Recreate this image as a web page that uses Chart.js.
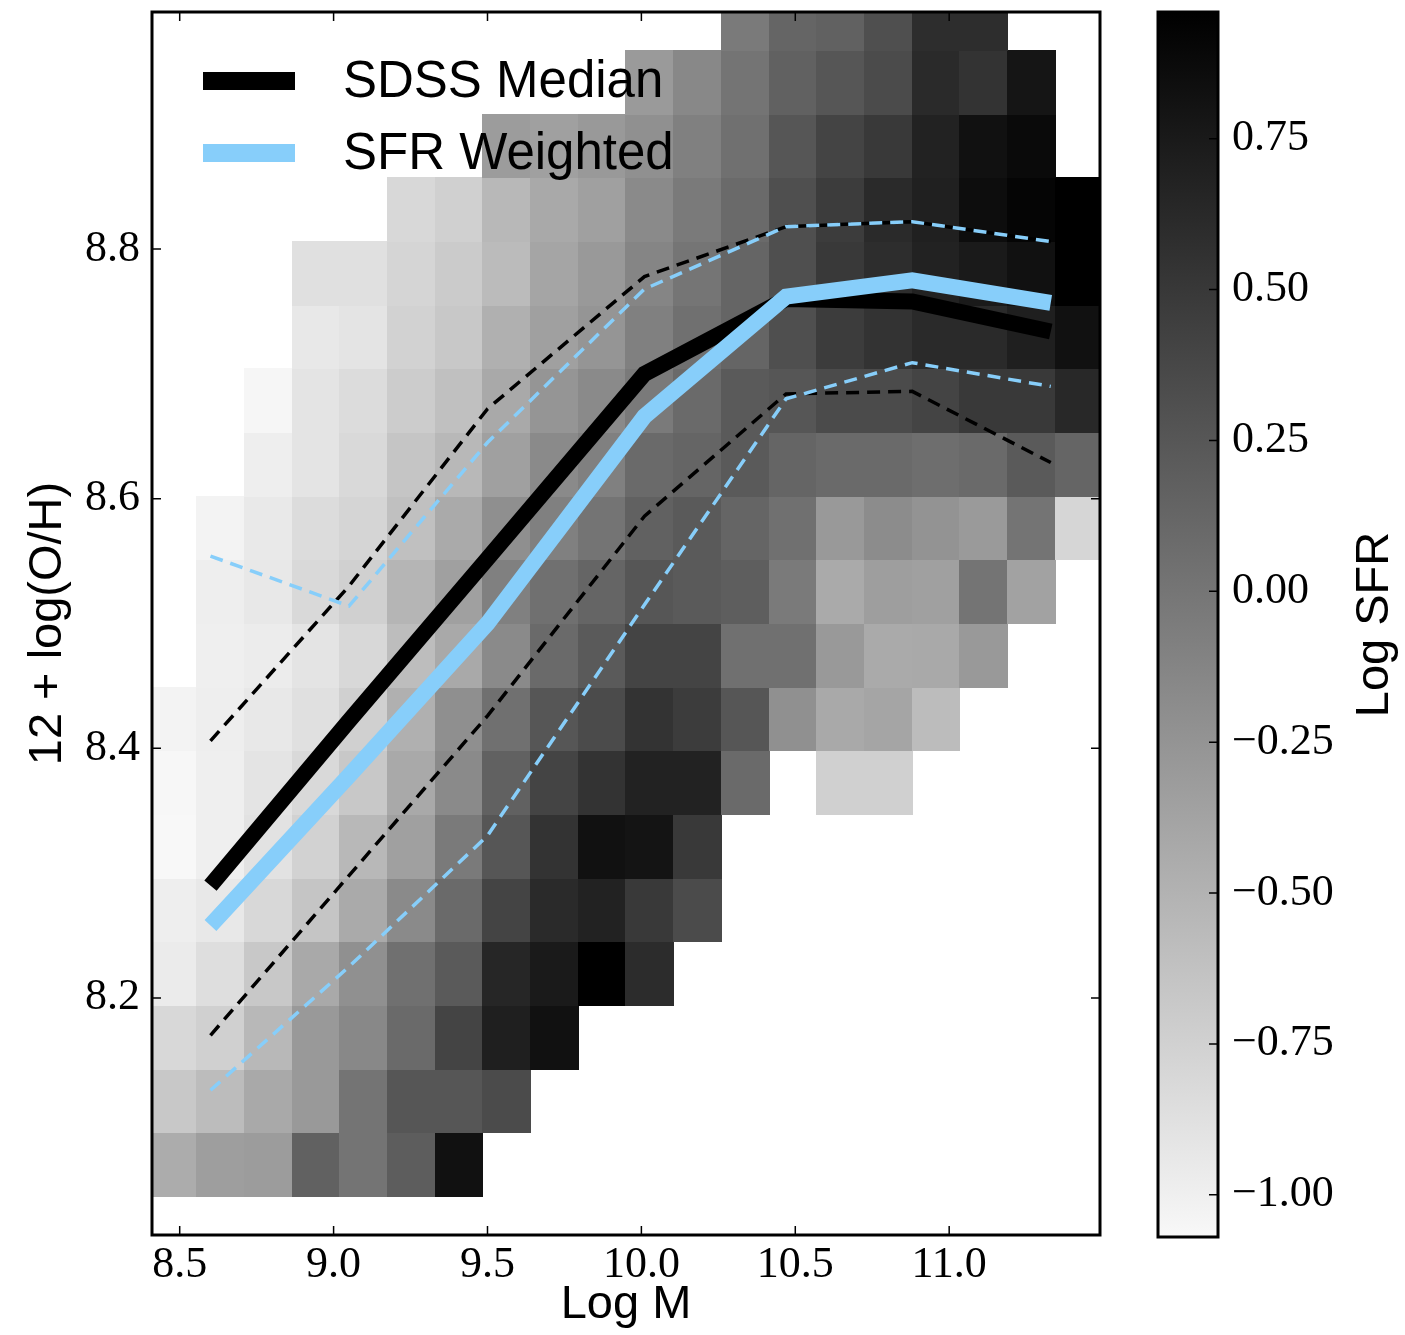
<!DOCTYPE html>
<html lang="en">
<head>
<meta charset="UTF-8">
<title>Mass - metallicity, coloured by Log SFR</title>
<style>
  html, body { margin: 0; padding: 0; background: #fff; }
  .wrap { position: relative; width: 1405px; height: 1335px; }
  #mainChart { position: absolute; left: 0; top: 0; }
  #barChart { position: absolute; left: 1120px; top: 0; }
</style>
</head>
<body>
<div class="wrap">
  <canvas id="mainChart" width="1120" height="1335"></canvas>
  <canvas id="barChart" width="285" height="1335"></canvas>
</div>
<script src="https://cdn.jsdelivr.net/npm/chart.js"></script>
<script>
// bin edges of the 2D histogram
const massEdges = [8.400, 8.555, 8.710, 8.865, 9.020, 9.175, 9.330, 9.485, 9.640, 9.795, 9.950,
                   10.105, 10.260, 10.415, 10.570, 10.725, 10.880, 11.035, 11.190, 11.345, 11.500];
const ohEdges = [8.041, 8.092, 8.143, 8.194, 8.245, 8.296, 8.347, 8.398, 8.449, 8.500,
                 8.551, 8.602, 8.653, 8.704, 8.755, 8.806, 8.857, 8.908, 8.959, 9.010];

// mean Log SFR per cell, rows from bottom to top, null = empty
const N = null;
const sfrGrid = [
  [-0.45, -0.33, -0.32, 0.17, 0.01, 0.20, 0.82, N, N, N, N, N, N, N, N, N, N, N, N, N],
  [-0.68, -0.58, -0.42, -0.29, 0.01, 0.26, 0.26, 0.35, N, N, N, N, N, N, N, N, N, N, N, N],
  [-0.81, -0.74, -0.55, -0.29, -0.15, 0.09, 0.40, 0.71, 0.82, N, N, N, N, N, N, N, N, N, N, N],
  [-0.96, -0.86, -0.68, -0.42, -0.22, 0.04, 0.22, 0.65, 0.75, 0.96, 0.60, N, N, N, N, N, N, N, N, N],
  [-0.99, -0.94, -0.81, -0.65, -0.43, -0.17, 0.09, 0.40, 0.62, 0.68, 0.49, 0.35, N, N, N, N, N, N, N, N],
  [-1.07, -1.00, -0.89, -0.76, -0.55, -0.35, -0.04, 0.26, 0.54, 0.82, 0.80, 0.49, N, N, N, N, N, N, N, N],
  [-1.06, -1.00, -0.91, -0.82, -0.68, -0.42, -0.17, 0.17, 0.40, 0.54, 0.68, 0.68, 0.09, N, -0.74, -0.74, N, N, N, N],
  [-1.03, -0.99, -0.94, -0.87, -0.74, -0.48, -0.21, 0.04, 0.26, 0.35, 0.54, 0.47, 0.26, -0.22, -0.42, -0.39, -0.58, N, N, N],
  [N, -1.00, -0.97, -0.91, -0.81, -0.59, -0.42, -0.17, 0.09, 0.22, 0.40, 0.40, 0.04, 0.04, -0.29, -0.43, -0.42, -0.29, N, N],
  [N, -0.99, -0.94, -0.82, -0.74, -0.52, -0.35, -0.09, 0.04, 0.13, 0.26, 0.22, 0.19, -0.04, -0.43, -0.33, -0.35, 0.01, -0.37, N],
  [N, -1.03, -0.95, -0.84, -0.78, -0.61, -0.43, -0.21, -0.09, 0.01, 0.17, 0.22, 0.13, 0.04, -0.29, -0.19, -0.24, -0.30, 0.01, -0.79],
  [N, N, -0.99, -0.91, -0.82, -0.65, -0.55, -0.35, -0.17, -0.09, 0.09, 0.13, 0.22, 0.13, 0.09, 0.09, 0.06, 0.09, 0.22, 0.13],
  [N, N, -1.05, -0.91, -0.84, -0.71, -0.61, -0.42, -0.26, -0.17, -0.04, 0.09, 0.22, 0.26, 0.35, 0.35, 0.40, 0.49, 0.49, 0.63],
  [N, N, N, -0.94, -0.91, -0.76, -0.68, -0.48, -0.35, -0.26, -0.09, 0.04, 0.13, 0.31, 0.47, 0.54, 0.62, 0.62, 0.71, 0.82],
  [N, N, N, -0.87, -0.87, -0.78, -0.70, -0.57, -0.39, -0.29, -0.13, 0.00, 0.13, 0.31, 0.49, 0.59, 0.68, 0.75, 0.82, 0.96],
  [N, N, N, N, N, -0.81, -0.74, -0.55, -0.42, -0.35, -0.17, -0.04, 0.09, 0.31, 0.47, 0.62, 0.70, 0.85, 0.92, 0.96],
  [N, N, N, N, N, N, N, -0.32, -0.35, -0.29, -0.22, -0.09, 0.04, 0.26, 0.40, 0.49, 0.68, 0.82, 0.88, N],
  [N, N, N, N, N, N, N, N, N, N, -0.30, -0.15, 0.01, 0.17, 0.26, 0.35, 0.62, 0.54, 0.79, N],
  [N, N, N, N, N, N, N, N, N, N, N, N, -0.04, 0.13, 0.17, 0.31, 0.59, 0.59, N, N]
];

// median lines and their spread
const lineMass    = [8.60, 9.05, 9.50, 10.01, 10.47, 10.88, 11.33];
const sdssMedian  = [8.290, 8.422, 8.552, 8.700, 8.760, 8.758, 8.734];
const sdssUpper   = [8.406, 8.530, 8.672, 8.778, 8.818, 8.822, 8.806];
const sdssLower   = [8.170, 8.298, 8.426, 8.586, 8.684, 8.686, 8.629];
const sfrWeighted = [8.258, 8.378, 8.500, 8.666, 8.762, 8.775, 8.757];
const sfrUpper    = [8.554, 8.514, 8.645, 8.768, 8.818, 8.822, 8.806];
const sfrLower    = [8.126, 8.225, 8.330, 8.515, 8.680, 8.709, 8.690];

const xTicks  = [8.5, 9.0, 9.5, 10.0, 10.5, 11.0];
const yTicks  = [8.2, 8.4, 8.6, 8.8];
const cbTicks = [-1.0, -0.75, -0.5, -0.25, 0, 0.25, 0.5, 0.75];

const SFR_MIN = -1.07, SFR_MAX = 0.96;
const BLUE = '#87cefa';
const serif = 'Liberation Serif';
const sans = 'Liberation Sans';

function greyFor(v) {
  let t = (v - SFR_MIN) / (SFR_MAX - SFR_MIN);
  t = Math.max(0, Math.min(1, t));
  const g = Math.round(248 * (1 - t));
  return 'rgb(' + g + ',' + g + ',' + g + ')';
}

function pts(ys) {
  return lineMass.map((m, i) => ({ x: m, y: ys[i] }));
}

// fixed axis sizes, and no extra room for half tick labels
function fixSize(w, h) {
  return s => {
    if (w !== null) s.width = w;
    if (h !== null) s.height = h;
    s.paddingTop = 0; s.paddingBottom = 0;
    s.paddingLeft = 0; s.paddingRight = 0;
  };
}

const heatmapPlugin = {
  id: 'heatmap',
  beforeDatasetsDraw(chart) {
    const { ctx, chartArea: a, scales: { x, y } } = chart;
    ctx.save();
    ctx.beginPath();
    ctx.rect(a.left, a.top, a.width, a.height);
    ctx.clip();
    sfrGrid.forEach((row, r) => {
      row.forEach((v, c) => {
        if (v === null) return;
        const x0 = Math.floor(x.getPixelForValue(massEdges[c]));
        const x1 = Math.ceil(x.getPixelForValue(massEdges[c + 1]));
        const y0 = Math.floor(y.getPixelForValue(ohEdges[r + 1]));
        const y1 = Math.ceil(y.getPixelForValue(ohEdges[r]));
        ctx.fillStyle = greyFor(v);
        ctx.fillRect(x0, y0, x1 - x0, y1 - y0);
      });
    });
    ctx.restore();
  }
};

// box round the plot, with matplotlib style inward ticks
const framePlugin = {
  id: 'frame',
  afterDraw(chart, args, opts) {
    const { ctx, chartArea: a } = chart;
    const len = 9;
    ctx.save();
    ctx.strokeStyle = '#000';
    ctx.lineWidth = 1.5;
    ctx.beginPath();
    Object.values(chart.scales).forEach(s => {
      if (!s.options.display) return;
      s.ticks.forEach(t => {
        const p = s.getPixelForValue(t.value);
        if (s.isHorizontal()) {
          ctx.moveTo(p, a.bottom); ctx.lineTo(p, a.bottom - len);
          ctx.moveTo(p, a.top); ctx.lineTo(p, a.top + len);
        } else {
          if (opts.leftTicks) { ctx.moveTo(a.left, p); ctx.lineTo(a.left + len, p); }
          ctx.moveTo(a.right, p); ctx.lineTo(a.right - len, p);
        }
      });
    });
    ctx.stroke();
    ctx.lineWidth = 3;
    ctx.strokeRect(a.left, a.top, a.width, a.height);
    ctx.restore();
  }
};

const legendPlugin = {
  id: 'insideLegend',
  afterDatasetsDraw(chart) {
    const { ctx, chartArea: a } = chart;
    const items = chart.data.datasets.filter(d => d.inLegend);
    ctx.save();
    ctx.font = '51px ' + sans;
    ctx.textBaseline = 'middle';
    ctx.fillStyle = '#000';
    items.forEach((d, i) => {
      const yy = a.top + 69 + i * 72;
      ctx.strokeStyle = d.borderColor;
      ctx.lineWidth = 18;
      ctx.lineCap = 'butt';
      ctx.beginPath();
      ctx.moveTo(a.left + 51, yy);
      ctx.lineTo(a.left + 143, yy);
      ctx.stroke();
      ctx.fillText(d.label, a.left + 191, yy + 2);
    });
    ctx.restore();
  }
};

function lineSet(label, ys, color, width, dashed, order) {
  return {
    label: label,
    data: pts(ys),
    borderColor: color,
    backgroundColor: color,
    borderWidth: width,
    borderDash: dashed ? [13, 8] : [],
    borderCapStyle: 'butt',
    pointRadius: 0,
    tension: 0,
    fill: false,
    showLine: true,
    inLegend: !dashed,
    order: order
  };
}

new Chart(document.getElementById('mainChart'), {
  type: 'scatter',
  data: {
    datasets: [
      lineSet('SDSS Median', sdssMedian, '#000', 16, false, 4),
      lineSet('SFR Weighted', sfrWeighted, BLUE, 16, false, 2),
      lineSet('SDSS upper', sdssUpper, '#000', 3.5, true, 3),
      lineSet('SDSS lower', sdssLower, '#000', 3.5, true, 3),
      lineSet('SFR upper', sfrUpper, BLUE, 3.5, true, 1),
      lineSet('SFR lower', sfrLower, BLUE, 3.5, true, 1)
    ]
  },
  options: {
    responsive: false,
    animation: false,
    devicePixelRatio: 1,
    layout: { padding: { left: 0, top: 12, right: 20, bottom: 0 } },
    plugins: {
      legend: { display: false },
      tooltip: { enabled: false },
      frame: { leftTicks: true }
    },
    scales: {
      x: {
        type: 'linear',
        min: 8.41,
        max: 11.49,
        afterBuildTicks: s => { s.ticks = xTicks.map(v => ({ value: v })); },
        afterFit: fixSize(null, 100),
        ticks: {
          callback: v => Number(v).toFixed(1),
          font: { family: serif, size: 44 },
          color: '#000',
          padding: 4,
          maxRotation: 0,
          autoSkip: false
        },
        grid: { display: false, drawTicks: false },
        border: { display: false },
        title: {
          display: true,
          text: 'Log M',
          color: '#000',
          font: { family: sans, size: 47 },
          padding: { top: 0, bottom: 2 }
        }
      },
      y: {
        type: 'linear',
        min: 8.01,
        max: 8.99,
        afterBuildTicks: s => { s.ticks = yTicks.map(v => ({ value: v })); },
        afterFit: fixSize(152, null),
        ticks: {
          callback: v => Number(v).toFixed(1),
          font: { family: serif, size: 44 },
          color: '#000',
          padding: 12,
          autoSkip: false
        },
        grid: { display: false, drawTicks: false },
        border: { display: false },
        title: {
          display: true,
          text: '12 + log(O/H)',
          color: '#000',
          font: { family: sans, size: 47 },
          padding: { top: 20, bottom: 0 }
        }
      }
    }
  },
  plugins: [heatmapPlugin, legendPlugin, framePlugin]
});

// colour bar
const colorbarPlugin = {
  id: 'colorbar',
  beforeDatasetsDraw(chart) {
    const { ctx, chartArea: a, scales: { y } } = chart;
    const g = ctx.createLinearGradient(0, y.getPixelForValue(SFR_MIN), 0, y.getPixelForValue(SFR_MAX));
    g.addColorStop(0, greyFor(SFR_MIN));
    g.addColorStop(1, greyFor(SFR_MAX));
    ctx.save();
    ctx.fillStyle = g;
    ctx.fillRect(a.left, a.top, a.width, a.height);
    ctx.translate(a.right + 157, (a.top + a.bottom) / 2);
    ctx.rotate(-Math.PI / 2);
    ctx.font = '47px ' + sans;
    ctx.fillStyle = '#000';
    ctx.textAlign = 'center';
    ctx.textBaseline = 'middle';
    ctx.fillText('Log SFR', 0, 0);
    ctx.restore();
  }
};

new Chart(document.getElementById('barChart'), {
  type: 'scatter',
  data: { datasets: [] },
  options: {
    responsive: false,
    animation: false,
    devicePixelRatio: 1,
    layout: { padding: { left: 38, top: 12, right: 0, bottom: 98 } },
    plugins: {
      legend: { display: false },
      tooltip: { enabled: false },
      frame: { leftTicks: false }
    },
    scales: {
      x: { display: false, min: 0, max: 1 },
      y: {
        position: 'right',
        min: SFR_MIN,
        max: SFR_MAX,
        afterBuildTicks: s => { s.ticks = cbTicks.map(v => ({ value: v })); },
        afterFit: fixSize(187, null),
        ticks: {
          callback: v => (v < 0 ? '\u2212' : '') + Math.abs(v).toFixed(2),
          font: { family: serif, size: 44 },
          color: '#000',
          padding: 14,
          autoSkip: false
        },
        grid: { display: false, drawTicks: false },
        border: { display: false }
      }
    }
  },
  plugins: [colorbarPlugin, framePlugin]
});
</script>
</body>
</html>
